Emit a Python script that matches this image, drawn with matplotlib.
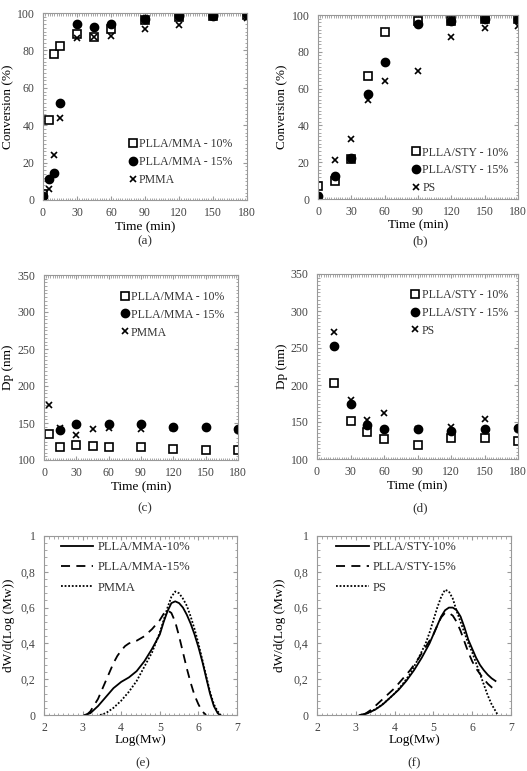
import numpy as np
import matplotlib
matplotlib.use('Agg')
import matplotlib.pyplot as plt
from matplotlib.ticker import MultipleLocator, FuncFormatter

plt.rcParams['font.family'] = ['Liberation Serif', 'DejaVu Serif']
plt.rcParams['text.color'] = '#333333'
plt.rcParams['xtick.color'] = '#999999'
plt.rcParams['ytick.color'] = '#999999'
plt.rcParams['xtick.labelcolor'] = '#444444'
plt.rcParams['ytick.labelcolor'] = '#444444'

# (a) conversion, MMA
t_a = [0, 5, 10, 15, 30, 45, 60, 90, 120, 150, 180]
conv_mma10 = [3, 43, 78, 82.5, 89, 87, 91.5, 96, 98, 98.5, 99]
conv_mma15 = [2, 11, 14.5, 52, 94, 92.5, 94, 97, 98.2, 98.5, 99.5]
conv_pmma = [0, 6, 24, 44, 86.5, 87, 87.5, 91.5, 93.5, 98, 97.5]

# (b) conversion, STY
t_b = [0, 15, 30, 45, 60, 90, 120, 150, 180]
conv_sty10 = [7, 10, 22, 67, 90.5, 96.5, 96.5, 98, 98]
conv_sty15 = [1.5, 12.5, 22.5, 57, 74.5, 95, 97, 98, 98]
conv_ps = [0, 21, 32.5, 54, 64, 69.5, 88, 93, 94]

# (c) particle size, MMA
t_c10 = [5, 15, 30, 45, 60, 90, 120, 150, 180]
dp_mma10 = [135, 118, 120, 119.5, 117, 118, 115.5, 113.5, 113.5]
t_c15 = [15, 30, 60, 90, 120, 150, 180]
dp_mma15 = [141, 149, 149, 148, 144, 145, 141.5]
t_cpm = [5, 15, 30, 45, 60, 90, 120, 180]
dp_pmma = [175, 143, 133.5, 142.5, 143.5, 142.5, 143, 141]

# (d) particle size, STY
t_d = [15, 30, 45, 60, 90, 120, 150, 180]
dp_sty10 = [202.5, 151.5, 136, 127, 118.5, 128.5, 128, 124.5]
dp_sty15 = [253, 174, 146, 140, 141, 138.5, 140, 142]
dp_ps = [272, 180, 153, 161.5, 140, 143, 154, 141]

# (e) MWD, MMA
lm_mma10 = [3.05, 3.2, 3.4, 3.6, 3.8, 4.0, 4.2, 4.4, 4.6, 4.8, 5.0, 5.1, 5.2, 5.3, 5.4,
            5.5, 5.6, 5.7, 5.8, 5.9, 6.0, 6.1, 6.2, 6.3, 6.4, 6.5, 6.56]
w_mma10 = [0, 0.01, 0.05, 0.10, 0.15, 0.185, 0.21, 0.245, 0.30, 0.37, 0.45, 0.52, 0.58, 0.625, 0.635,
           0.625, 0.60, 0.56, 0.51, 0.45, 0.38, 0.30, 0.21, 0.12, 0.05, 0.01, 0]
lm_mma15 = [3.1, 3.2, 3.4, 3.6, 3.8, 3.9, 4.0, 4.1, 4.2, 4.4, 4.6, 4.8, 5.0, 5.1, 5.2,
            5.3, 5.4, 5.5, 5.6, 5.7, 5.8, 5.9, 6.0, 6.1, 6.2]
w_mma15 = [0, 0.02, 0.09, 0.19, 0.29, 0.33, 0.36, 0.385, 0.40, 0.415, 0.44, 0.48, 0.53, 0.565, 0.585,
           0.57, 0.52, 0.44, 0.35, 0.26, 0.18, 0.11, 0.06, 0.02, 0]
lm_pmma = [3.45, 3.6, 3.8, 4.0, 4.2, 4.4, 4.6, 4.8, 5.0, 5.1, 5.2, 5.3, 5.4, 5.5, 5.6,
           5.7, 5.8, 5.9, 6.0, 6.1, 6.2, 6.3, 6.4, 6.5, 6.58]
w_pmma = [0, 0.01, 0.04, 0.08, 0.13, 0.19, 0.27, 0.35, 0.46, 0.53, 0.60, 0.66, 0.69, 0.68, 0.65,
          0.61, 0.55, 0.48, 0.40, 0.31, 0.22, 0.13, 0.06, 0.02, 0]

# (f) MWD, STY
lm_sty10 = [3.1, 3.3, 3.5, 3.7, 3.9, 4.1, 4.3, 4.5, 4.7, 4.9, 5.1, 5.2, 5.3, 5.4, 5.5,
            5.6, 5.7, 5.8, 5.9, 6.0, 6.1, 6.2, 6.3, 6.4, 6.5, 6.6]
w_sty10 = [0, 0.01, 0.03, 0.06, 0.10, 0.14, 0.19, 0.25, 0.32, 0.40, 0.50, 0.55, 0.585, 0.60, 0.60,
           0.585, 0.55, 0.49, 0.42, 0.37, 0.32, 0.28, 0.25, 0.225, 0.205, 0.19]
lm_sty15 = [3.2, 3.4, 3.6, 3.8, 4.0, 4.2, 4.4, 4.6, 4.8, 5.0, 5.1, 5.2, 5.3, 5.4, 5.5,
            5.6, 5.7, 5.8, 5.9, 6.0, 6.1, 6.2, 6.3, 6.4, 6.5, 6.6]
w_sty15 = [0, 0.03, 0.07, 0.11, 0.15, 0.20, 0.25, 0.31, 0.38, 0.45, 0.50, 0.545, 0.57, 0.57, 0.555,
           0.52, 0.47, 0.41, 0.35, 0.30, 0.26, 0.23, 0.20, 0.175, 0.155, 0.14]
lm_ps = [3.2, 3.4, 3.6, 3.8, 4.0, 4.2, 4.4, 4.6, 4.8, 4.9, 5.0, 5.1, 5.2, 5.3, 5.4,
         5.5, 5.6, 5.7, 5.8, 5.9, 6.0, 6.1, 6.2, 6.3, 6.4, 6.5, 6.66]
w_ps = [0, 0.02, 0.045, 0.08, 0.12, 0.17, 0.23, 0.31, 0.40, 0.46, 0.53, 0.60, 0.66, 0.70, 0.69,
        0.65, 0.58, 0.52, 0.46, 0.40, 0.35, 0.29, 0.23, 0.17, 0.11, 0.06, 0]

W, H = 527, 771
fig = plt.figure(figsize=(W / 100, H / 100), dpi=100)


def make_ax(l, t, r, b):
    # pixel box -> figure fraction
    ax = fig.add_axes([l / W, 1 - b / H, (r - l) / W, (b - t) / H])
    for s in ax.spines.values():
        s.set_color('#999999')
        s.set_linewidth(0.8)
    ax.tick_params(which='both', direction='in', top=True, right=True, labelsize=8.5)
    ax.tick_params(which='major', length=3)
    ax.tick_params(axis='y', which='major', pad=6)
    ax.tick_params(axis='x', which='major', pad=5)
    ax.tick_params(which='minor', length=1.8)
    return ax


def time_axis(ax):
    ax.set_xlim(0, 180)
    ax.xaxis.set_major_locator(MultipleLocator(30))
    ax.xaxis.set_minor_locator(MultipleLocator(2))
    ax.set_xlabel('Time (min)', fontsize=9.5, va='center')
    ax.xaxis.set_label_coords(0.5, -0.145)


def label_y(ax, text, xpix):
    ax.set_ylabel(text, fontsize=9.5, va='center')
    bb = ax.get_position()
    ax.yaxis.set_label_coords((xpix / W - bb.x0) / bb.width, 0.5)


def points(ax, t, s10, s15, s0, names, anchor):
    ax.plot(t[0], s10, ls='none', marker='s', ms=5.5, mfc='white', mec='black', mew=1.2, label=names[0])
    ax.plot(t[1], s15, ls='none', marker='o', ms=6, color='black', label=names[1])
    ax.plot(t[2], s0, ls='none', marker='x', ms=5, color='black', mew=1.2, label=names[2])
    ax.legend(loc='upper left', bbox_to_anchor=anchor, frameon=False, fontsize=8.5,
              handlelength=1.0, handletextpad=0.05, borderpad=0, borderaxespad=0,
              labelspacing=0.5)


def mwd_axis(ax):
    ax.set_xlim(2, 7)
    ax.set_ylim(0, 1)
    ax.xaxis.set_major_locator(MultipleLocator(1))
    ax.xaxis.set_minor_locator(MultipleLocator(0.125))
    ax.yaxis.set_major_locator(MultipleLocator(0.2))
    ax.yaxis.set_minor_locator(MultipleLocator(0.04))
    ax.yaxis.set_major_formatter(FuncFormatter(lambda v, p: ('%g' % round(v, 1)).replace('.', ',')))
    ax.set_xlabel('Log(Mw)', fontsize=9.5, va='center')
    ax.xaxis.set_label_coords(0.5, -0.14)


def lines(ax, xs, ys, names, anchor):
    ax.plot(xs[0], ys[0], color='black', lw=1.3, ls='-', label=names[0])
    ax.plot(xs[1], ys[1], color='black', lw=1.3, ls=(0, (5, 3.5)), label=names[1])
    ax.plot(xs[2], ys[2], color='black', lw=1.3, ls=(0, (1, 1)), label=names[2])
    ax.legend(loc='upper left', bbox_to_anchor=anchor, frameon=False, fontsize=9,
              handlelength=2.6, handletextpad=0.3, borderpad=0, borderaxespad=0,
              labelspacing=0.65)


# (a)
ax = make_ax(43, 13, 247, 200)
points(ax, [t_a, t_a, t_a], conv_mma10, conv_mma15, conv_pmma,
       ['PLLA/MMA - 10%', 'PLLA/MMA - 15%', 'PMMA'], (0.41, 0.33))
time_axis(ax)
ax.set_ylim(0, 100)
ax.yaxis.set_major_locator(MultipleLocator(20))
ax.yaxis.set_minor_locator(MultipleLocator(2))
label_y(ax, 'Conversion (%)', 8)

# (b)
ax = make_ax(318, 15, 518, 199)
points(ax, [t_b, t_b, t_b], conv_sty10, conv_sty15, conv_ps,
       ['PLLA/STY - 10%', 'PLLA/STY - 15%', 'PS'], (0.46, 0.285))
time_axis(ax)
ax.set_ylim(0, 100)
ax.yaxis.set_major_locator(MultipleLocator(20))
ax.yaxis.set_minor_locator(MultipleLocator(2))
label_y(ax, 'Conversion (%)', 282)

# (c)
ax = make_ax(44, 275, 238, 460)
points(ax, [t_c10, t_c15, t_cpm], dp_mma10, dp_mma15, dp_pmma,
       ['PLLA/MMA - 10%', 'PLLA/MMA - 15%', 'PMMA'], (0.385, 0.915))
time_axis(ax)
ax.set_ylim(100, 350)
ax.yaxis.set_major_locator(MultipleLocator(50))
ax.yaxis.set_minor_locator(MultipleLocator(5))
label_y(ax, 'Dp (nm)', 8)

# (d)
ax = make_ax(317, 274, 518, 459)
points(ax, [t_d, t_d, t_d], dp_sty10, dp_sty15, dp_ps,
       ['PLLA/STY - 10%', 'PLLA/STY - 15%', 'PS'], (0.46, 0.92))
time_axis(ax)
ax.set_ylim(100, 350)
ax.yaxis.set_major_locator(MultipleLocator(50))
ax.yaxis.set_minor_locator(MultipleLocator(5))
label_y(ax, 'Dp (nm)', 282)

# (e)
ax = make_ax(44, 536, 237, 715)
lines(ax, [lm_mma10, lm_mma15, lm_pmma], [w_mma10, w_mma15, w_pmma],
      ['PLLA/MMA-10%', 'PLLA/MMA-15%', 'PMMA'], (0.088, 0.97))
mwd_axis(ax)
label_y(ax, 'dW/d(Log (Mw))', 9)

# (f)
ax = make_ax(317, 536, 511, 715)
lines(ax, [lm_sty10, lm_sty15, lm_ps], [w_sty10, w_sty15, w_ps],
      ['PLLA/STY-10%', 'PLLA/STY-15%', 'PS'], (0.098, 0.97))
mwd_axis(ax)
label_y(ax, 'dW/d(Log (Mw))', 280)

# panel captions
for lab, xc, yc in [('(a)', 145, 241), ('(b)', 420, 241), ('(c)', 145, 508),
                    ('(d)', 420, 508), ('(e)', 143, 763), ('(f)', 414, 763)]:
    fig.text(xc / W, 1 - yc / H, lab, ha='center', va='center', fontsize=9.5)

fig.savefig('out.png', dpi=100)
